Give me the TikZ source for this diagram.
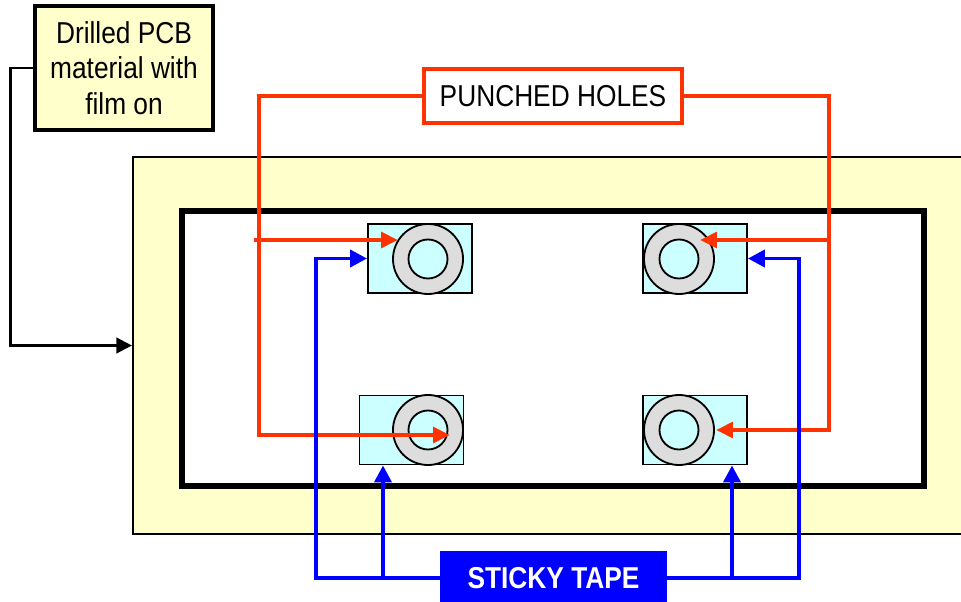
\documentclass[tikz,border=0pt]{standalone}
\usepackage{fontspec}
\setmainfont{Liberation Sans}[FakeStretch=0.87]
\usetikzlibrary{arrows.meta, positioning}

\definecolor{boardyellow}{HTML}{FFFFCC}
\definecolor{padcyan}{HTML}{CCFFFF}
\definecolor{ringgray}{HTML}{DDDDDD}
\definecolor{punchred}{HTML}{FF3300}
\definecolor{tapeblue}{HTML}{0000FF}

\begin{document}
\begin{tikzpicture}[
    x=0.025cm, y=-0.025cm,
    txt/.style={font=\fontsize{21.5}{25.2}\selectfont, align=center, inner sep=0pt},
    board/.style={rectangle, draw, line width=1.4pt, fill=boardyellow, minimum width=20.875cm, minimum height=9.425cm},
    frame/.style={rectangle, draw, line width=4pt, fill=white, minimum width=18.55cm, minimum height=6.875cm},
    pad/.style={rectangle, draw, line width=1.3pt, fill=padcyan, minimum width=2.6cm, minimum height=1.725cm, inner sep=0pt},
    ring/.style={circle, draw, line width=1.3pt, fill=ringgray, minimum size=1.75cm, inner sep=0pt},
    hole/.style={circle, draw, line width=1.3pt, fill=padcyan, minimum size=0.975cm, inner sep=0pt},
    feedconn/.style={-{Triangle[length=11pt, width=11pt]}, line width=1.8pt},
    punchconn/.style={-{Triangle[length=12pt, width=11pt]}, line width=2.8pt, punchred},
    tapeconn/.style={-{Triangle[length=12pt, width=12pt]}, line width=2.8pt, tapeblue}
]

% Fixed page size
\useasboundingbox (0,0) rectangle (961,602);

% ==================== BOARD AND FRAME ====================

\node[board] (board) at (550.5,345.5) {};
\node[frame] (frame) at (553,348.5) {};

% Pads with rings
\node[pad] (padTL) at (420,258.5) {};
\node[pad] (padTR) at (695,258.5) {};
\node[pad] (padBL) at (411.5,430) {};
\node[pad] (padBR) at (695,430) {};

\foreach \name/\pos in {TL/{(428,259)}, TR/{(679,259)}, BL/{(428,430)}, BR/{(679,430)}} {
    \node[ring] (ring\name) at \pos {};
    \node[hole] (hole\name) at \pos {};
}

% ==================== LABELS ====================

\node[txt, rectangle, draw, line width=2.2pt, fill=boardyellow, minimum width=4.45cm, minimum height=3.1cm] (pcb) at (124,68) {Drilled PCB\\material with\\film on};
\node[txt, rectangle, draw=punchred, line width=2.2pt, fill=white, minimum width=6.45cm, minimum height=1.35cm] (holes) at (553,96) {PUNCHED HOLES};
\node[txt, rectangle, fill=tapeblue, text=white, font=\fontsize{21.5}{25.2}\selectfont\bfseries, minimum width=5.675cm, minimum height=1.35cm] (tape) at (553.5,578) {STICKY TAPE};

% ==================== CONNECTORS ====================

% Material feed
\draw[feedconn] (pcb.west) -- ++(-23,0) |- (board.west);

% Punched holes
\coordinate (hitTL) at (398,240);
\coordinate (hitTR) at (700,240);
\coordinate (hitBL) at (450,435);
\coordinate (hitBR) at (716,430);
\draw[punchconn] (holes.west) -| (259,435) -- (hitBL);
\draw[punchconn] (254,240) -- (hitTL);
\draw[punchconn] (holes.east) -| (829,430) -- (hitBR);
\draw[punchconn] (829,240) -- (hitTR);

% Sticky tape
\coordinate (tapeL) at (383,578);
\coordinate (tapeR) at (732,578);
\draw[tapeconn] (tape.west) -- (316,578) |- (padTL.west);
\draw[tapeconn] (tapeL) -- (tapeL |- padBL.south);
\draw[tapeconn] (tape.east) -- (799,578) |- (padTR.east);
\draw[tapeconn] (tapeR) -- (tapeR |- padBR.south);

\end{tikzpicture}
\end{document}
